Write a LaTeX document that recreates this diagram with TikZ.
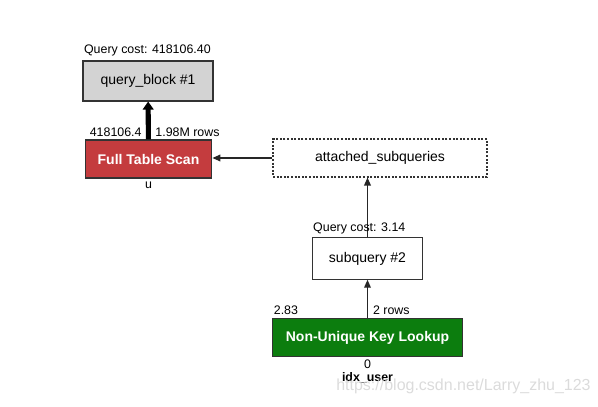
\documentclass[tikz,border=0pt]{standalone}
\usepackage{fontspec}
\setmainfont{Liberation Sans}
\usetikzlibrary{arrows.meta}
\definecolor{scanred}{RGB}{196,60,62}
\definecolor{lookupgreen}{RGB}{12,125,14}
\definecolor{blockgray}{RGB}{211,211,211}
\begin{document}
\begin{tikzpicture}
		[x=0.75pt,y=-0.75pt,
			box/.style={rectangle,draw=black!80,line width=0.8pt,inner sep=0pt,font=\fontsize{10.5}{12}\selectfont},
			opbox/.style={box,font=\fontsize{10.5}{12}\selectfont\bfseries,text=white},
			info/.style={inner sep=1pt,font=\fontsize{9.3}{11}\selectfont},
			flow/.style={draw=black!85,line width=1pt,-{Triangle[length=6pt,width=5pt]}},
			bigflow/.style={draw=black,line width=3.8pt,-{Triangle[length=6pt,width=8pt]}}]
	\useasboundingbox (0,0) rectangle (598,406);
	% operations
	\node[box,fill=blockgray,minimum width=97.5pt,minimum height=30pt] (qblock) at (148,81) {query\_block \#1};
	\node[opbox,fill=scanred,minimum width=95pt,minimum height=28.5pt] (fullscan) at (148.5,159) {Full Table Scan};
	\node[box,dashed,dash pattern=on 1.5pt off 1.2pt,minimum width=160.5pt,minimum height=28.5pt] (attached) at (380,158) {attached\_subqueries};
	\node[box,fill=white,minimum width=83pt,minimum height=31pt] (subq) at (367.5,258.5) {subquery \#2};
	\node[opbox,fill=lookupgreen,minimum width=142pt,minimum height=29pt] (lookup) at (367.5,337.5) {Non-Unique Key Lookup};
	% connectors
	\draw[bigflow] (fullscan) -- (qblock);
	\draw[flow] (attached.west) -- (attached.west -| fullscan.east);
	\draw[flow] (subq.north) -- (subq.north |- attached.south);
	\draw[flow] (lookup) -- (subq);
	% costs and rows
	\node[info,anchor=south west] (qcost1) at ([yshift=2pt]qblock.north west) {Query cost: 418106.40};
	\node[info,anchor=south east] (cost1) at ([xshift=-4pt,yshift=1pt]fullscan.north) {418106.4};
	\node[info,anchor=south west] (rows1) at ([xshift=4pt,yshift=1pt]fullscan.north) {1.98M rows};
	\node[info,anchor=north] (tbl1) at ([yshift=-1pt]fullscan.south) {u};
	\node[info,anchor=south west] (qcost2) at ([yshift=1pt]subq.north west) {Query cost: 3.14};
	\node[info,anchor=south west] (cost2) at ([yshift=1pt]lookup.north west) {2.83};
	\node[info,anchor=south west] (rows2) at ([xshift=3pt,yshift=1pt]lookup.north) {2 rows};
	\node[info,anchor=north] (cost3) at ([yshift=-1pt]lookup.south) {0};
	\node[info,anchor=north,font=\fontsize{9.3}{11}\selectfont\bfseries] (key2) at ([yshift=-10pt]lookup.south) {idx\_user};
	% watermark
	\node[anchor=west,text=gray!35,opacity=0.8,font=\fontsize{12}{14}\selectfont,inner sep=0pt] (mark) at (336,386) {https://blog.csdn.net/Larry\_zhu\_123};
\end{tikzpicture}
\end{document}
